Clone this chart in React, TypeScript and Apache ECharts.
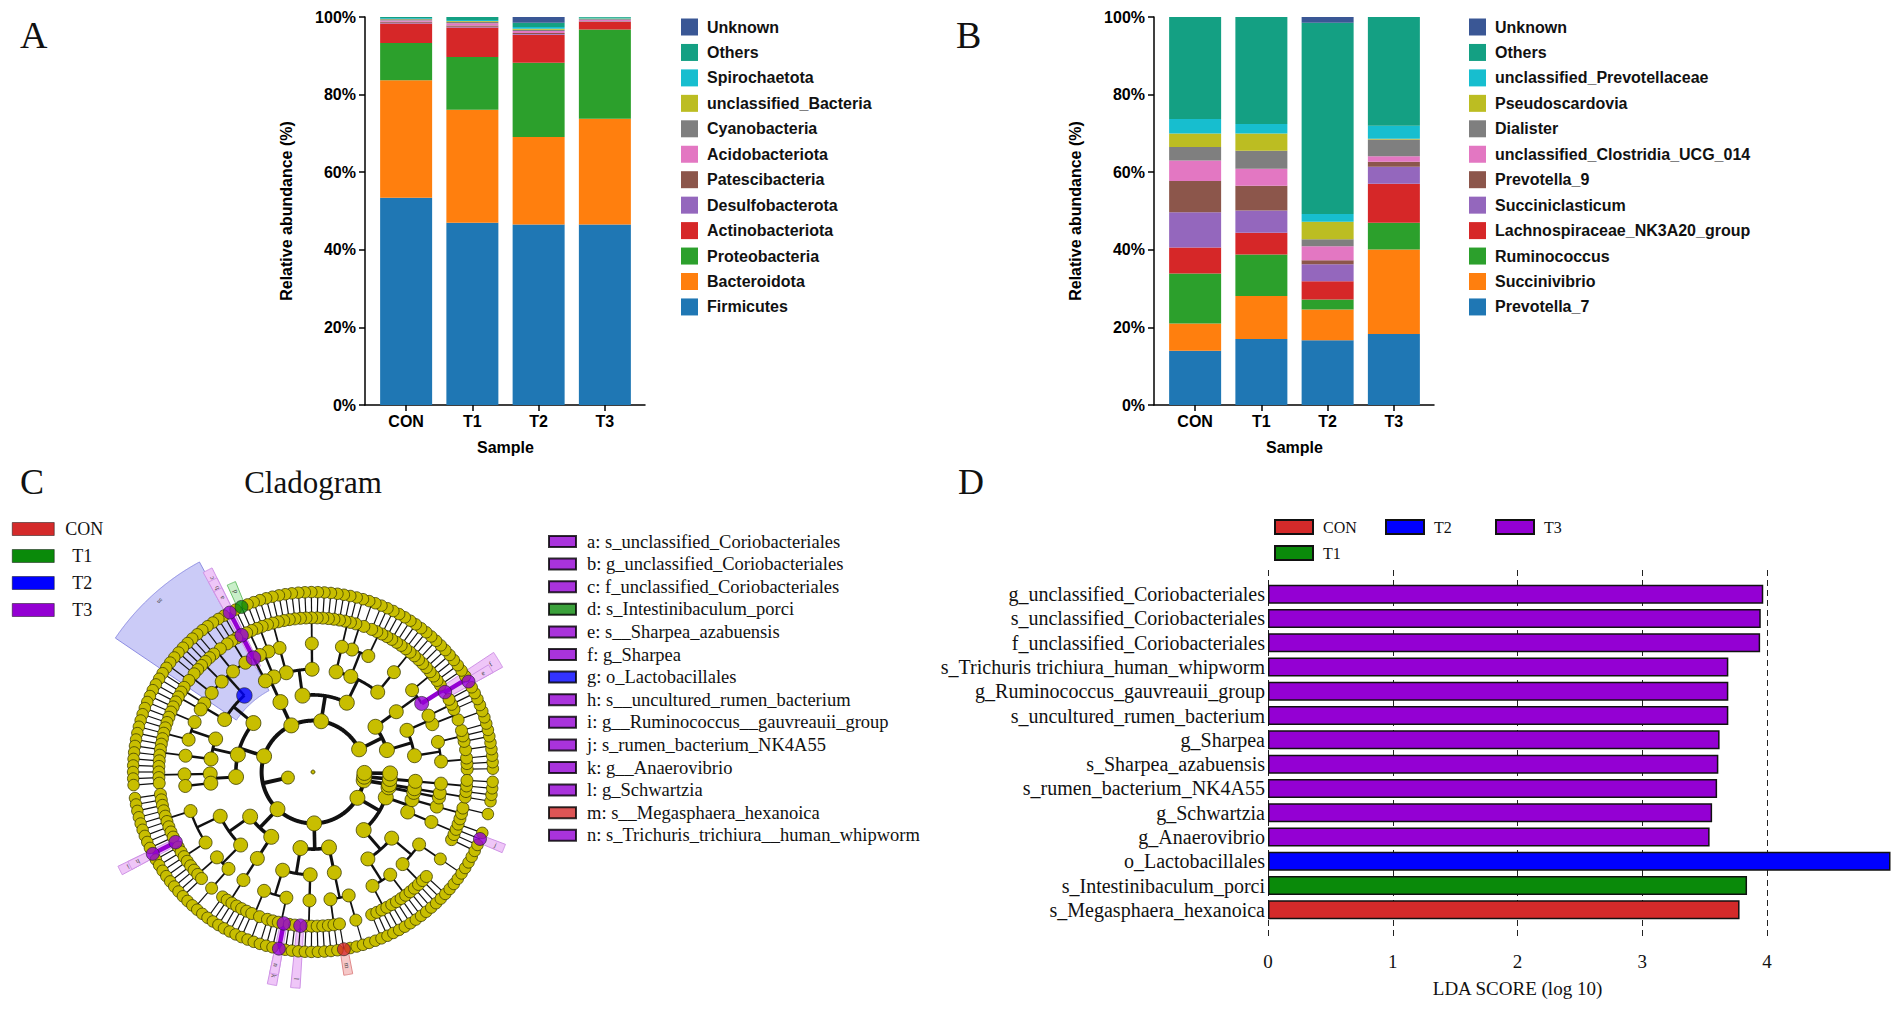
import React, { useEffect, useRef } from 'react';
import * as echarts from 'echarts';

const SANS = '"Liberation Sans", Arial, Helvetica, sans-serif';
const SERIF = '"Liberation Serif", "Times New Roman", Times, serif';

// ---------- Panels A & B ----------
const SAMPLES = ['CON', 'T1', 'T2', 'T3'];
const STACK_COLORS = ['#1f77b4', '#ff7f0e', '#2ca02c', '#d62728', '#9467bd', '#8c564b', '#e377c2', '#7f7f7f', '#bcbd22', '#17becf', '#14a083', '#3a5795'];

const A_NAMES = ['Firmicutes', 'Bacteroidota', 'Proteobacteria', 'Actinobacteriota', 'Desulfobacterota', 'Patescibacteria', 'Acidobacteriota', 'Cyanobacteria', 'unclassified_Bacteria', 'Spirochaetota', 'Others', 'Unknown'];
const A_VALUES = [
  [53.4, 47.0, 46.5, 46.5],
  [30.3, 29.1, 22.6, 27.3],
  [9.6, 13.6, 19.1, 23.0],
  [5.0, 7.6, 7.2, 1.9],
  [0.2, 0.2, 0.2, 0.1],
  [0.3, 0.3, 0.3, 0.1],
  [0.3, 0.6, 0.5, 0.4],
  [0.3, 0.4, 0.3, 0.2],
  [0.1, 0.2, 0.3, 0.1],
  [0.2, 0.2, 0.4, 0.2],
  [0.3, 0.8, 1.1, 0.2],
  [0.0, 0.0, 1.5, 0.0],
];

const B_NAMES = ['Prevotella_7', 'Succinivibrio', 'Ruminococcus', 'Lachnospiraceae_NK3A20_group', 'Succiniclasticum', 'Prevotella_9', 'unclassified_Clostridia_UCG_014', 'Dialister', 'Pseudoscardovia', 'unclassified_Prevotellaceae', 'Others', 'Unknown'];
const B_VALUES = [
  [14.0, 17.0, 16.7, 18.3],
  [7.0, 11.1, 7.9, 21.8],
  [12.9, 10.7, 2.6, 6.9],
  [6.7, 5.6, 4.7, 10.0],
  [9.1, 5.7, 4.4, 4.4],
  [8.0, 6.4, 1.0, 1.3],
  [5.3, 4.4, 3.6, 1.4],
  [3.5, 4.6, 1.8, 4.3],
  [3.5, 4.5, 4.5, 0.2],
  [3.7, 2.4, 2.0, 3.4],
  [26.3, 27.6, 49.3, 28.0],
  [0.0, 0.0, 1.5, 0.0],
];

// ---------- Panel D ----------
const GROUPS = ['CON', 'T1', 'T2', 'T3'];
const GROUP_COLORS = ['#d42a2a', '#0a8a0a', '#0000ff', '#9400d3'];
const LDA_NAMES = ['g_unclassified_Coriobacteriales', 's_unclassified_Coriobacteriales', 'f_unclassified_Coriobacteriales', 's_Trichuris trichiura_human_whipworm', 'g_Ruminococcus_gauvreauii_group', 's_uncultured_rumen_bacterium', 'g_Sharpea', 's_Sharpea_azabuensis', 's_rumen_bacterium_NK4A55', 'g_Schwartzia', 'g_Anaerovibrio', 'o_Lactobacillales', 's_Intestinibaculum_porci', 's_Megasphaera_hexanoica'];
const LDA_VALUES = [3.97, 3.95, 3.945, 3.69, 3.69, 3.69, 3.62, 3.61, 3.6, 3.56, 3.54, 4.99, 3.84, 3.78];
const LDA_GROUP = ['T3', 'T3', 'T3', 'T3', 'T3', 'T3', 'T3', 'T3', 'T3', 'T3', 'T3', 'T2', 'T1', 'CON'];

// ---------- Panel C (cladogram) ----------
// phylum -> class -> order -> family -> genus (number = species count)
const PHYLA: any[] = [
  [
    [[[1, 1, 1, 2], [1, 1, 1]], [[3, 1], [1]]],
    [[[1, 2, 1, 1], [1, 1]]],
  ],
  [
    [[[1, 1, 1, 1, 1, 1, 1, 1, 1]], [[1, 1, 1, 1], [2, 1]], [[1, 1]]],
    [[[1, 1, 1, 1, 1, 1, 1, 1, 1, 1, 1]], [[1, 1, 1]]],
  ],
  [
    [[[1, 1], [1, 1]], [[1]]],
  ],
  [
    [[[1, 1, 1], [2, 1], [1, 1, 1, 1], [1, 2]], [[1, 1], [1]]],
    [[[1, 1, 1, 1, 1], [1, 1, 1]], [[1, 1, 1, 1]]],
    [[[1, 1, 1, 1]], [[]]],
  ],
  [
    [[[1, 1, 1, 1, 1, 1, 1, 1, 1, 1], [1, 1, 1, 1, 1]], [[1, 1, 1], [4]]],
    [[[1, 1, 1, 1]]],
  ],
  [
    [[[1, 1, 1, 2, 1], [1, 1, 1, 1]], [[1, 1, 1, 1, 1, 1]]],
    [[[1, 1, 1], [5]]],
  ],
  [
    [[[1, 1, 1, 1, 1, 1], [1, 1, 1]], [[1, 1, 1, 1], [7]]],
    [[[1, 1, 1, 1]], [[0, 0, 1]]],
    [[[]]],
  ],
  [[[[1]]]],
  [[[[1, 1, 1]]]],
  [[]],
];
const NODE_SIZE = [4, 13, 15, 15, 14, 13, 12, 11.5];
const LINE_W = [0, 4, 3.6, 3.0, 2.4, 1.8, 1.2];

const FEAT_LETTERS = ['a', 'b', 'c', 'd', 'e', 'f', 'g', 'h', 'i', 'j', 'k', 'l', 'm', 'n'];
const FEAT_NAMES = ['s_unclassified_Coriobacteriales', 'g_unclassified_Coriobacteriales', 'f_unclassified_Coriobacteriales', 's_Intestinibaculum_porci', 's__Sharpea_azabuensis', 'g_Sharpea', 'o_Lactobacillales', 's__uncultured_rumen_bacterium', 'g__Ruminococcus__gauvreauii_group', 's_rumen_bacterium_NK4A55', 'g__Anaerovibrio', 'g_Schwartzia', 's__Megasphaera_hexanoica', 's_Trichuris_trichiura__human_whipworm'];
const FEAT_GROUP = ['T3', 'T3', 'T3', 'T1', 'T3', 'T3', 'T2', 'T3', 'T3', 'T3', 'T3', 'T3', 'CON', 'T3'];
const FEAT_ANGLE = [117, 117, 117, 114, 30, 30, 132, 208, 208, 338, 259.5, 264.5, 280, 259.5];
const FEAT_LEVEL = [7, 6, 5, 7, 7, 6, 4, 7, 6, 7, 6, 6, 7, 7];
const EXTRA_ANGLE = [30];
const EXTRA_LEVEL = [5];
const EXTRA_GROUP = ['T3'];

const SECTOR_FILL: Record<string, string> = { CON: '#f6c8c8', T1: '#c9efc9', T2: '#cbcbf7', T3: '#efc6f8' };
const SECTOR_STROKE: Record<string, string> = { CON: '#e08a8a', T1: '#6cc26c', T2: '#8d8de3', T3: '#cf93e6' };

type TNode = { level: number; children: TNode[]; angle: number; leafMin: number; leafMax: number; parent: TNode | null };

function buildTree() {
  let leaf = 0;
  const nodes: TNode[] = [];
  function mk(level: number, spec: any): TNode {
    const n: TNode = { level, children: [], angle: 0, leafMin: 0, leafMax: 0, parent: null };
    if (level === 6) {
      for (let i = 0; i < spec; i++) n.children.push(mk(7, null));
    } else if (level < 6) {
      for (const s of spec) n.children.push(mk(level + 1, s));
    }
    for (const c of n.children) c.parent = n;
    if (!n.children.length) {
      n.leafMin = n.leafMax = leaf;
      n.angle = leaf + 0.5;
      leaf++;
    } else {
      const f = n.children[0];
      const l = n.children[n.children.length - 1];
      n.leafMin = f.leafMin;
      n.leafMax = l.leafMax;
      n.angle = (f.angle + l.angle) / 2;
    }
    nodes.push(n);
    return n;
  }
  const root = mk(0, [PHYLA]);
  return { root, nodes, N: leaf };
}

function buildOption() {
  const { nodes, N } = buildTree();
  const species = nodes.filter((n) => n.level === 7);
  const findNode = (deg: number, level: number) => {
    const t = (deg / 360) * N;
    let best = species[0];
    for (const s of species) if (Math.abs(s.angle - t) < Math.abs(best.angle - t)) best = s;
    let n: TNode = best;
    while (n.level > level && n.parent) n = n.parent;
    return n;
  };

  const featNodes = FEAT_ANGLE.map((a, i) => findNode(a, FEAT_LEVEL[i]));
  const extraNodes = EXTRA_ANGLE.map((a, i) => findNode(a, EXTRA_LEVEL[i]));
  const hl = new Map<TNode, string>();
  featNodes.forEach((n, i) => hl.set(n, FEAT_GROUP[i]));
  extraNodes.forEach((n, i) => hl.set(n, EXTRA_GROUP[i]));

  const arcs: number[][] = [];
  const radials: number[][] = [];
  for (const n of nodes) {
    if (n.level < 1 || !n.children.length) continue;
    const w = LINE_W[n.level];
    const cl = n.level + 1;
    radials.push([n.level, n.angle, cl, w]);
    const a0 = n.children[0].angle;
    const a1 = n.children[n.children.length - 1].angle;
    if (a1 > a0) arcs.push([cl, a0, a1, w]);
  }
  const outerR = (lvl: number) => 8.0 + (7 - lvl) * 0.43;
  const sectorList: { n: TNode; g: string; letter: string }[] = [];
  featNodes.forEach((n, i) => sectorList.push({ n, g: FEAT_GROUP[i], letter: FEAT_LETTERS[i] }));
  sectorList.sort((p, q) => p.n.level - q.n.level);
  const sectors = sectorList.map((s) => [s.n.level - (s.n.level < 6 ? 0.4 : 0), s.n.leafMin - 0.1, outerR(s.n.level), s.n.leafMax + 1.1]);
  const chain: number[][] = [];
  const chainColor: string[] = [];
  hl.forEach((g, n) => {
    if (n.parent && hl.has(n.parent)) {
      chain.push([n.parent.level, n.parent.angle, n.level, n.angle]);
      chainColor.push(GROUP_COLORS[GROUPS.indexOf(g)]);
    }
  });
  const nodeData = nodes.filter((n) => !hl.has(n)).map((n) => [n.level, n.angle, NODE_SIZE[n.level]]);

  const series: any[] = [];
  A_NAMES.forEach((name, i) => {
    series.push({ type: 'bar', name, xAxisIndex: 1, yAxisIndex: 1, stack: 'A', barWidth: 52, data: A_VALUES[i], itemStyle: { color: STACK_COLORS[i] } });
  });
  B_NAMES.forEach((name, i) => {
    series.push({ type: 'bar', name, xAxisIndex: 3, yAxisIndex: 3, stack: 'B', barWidth: 52, data: B_VALUES[i], itemStyle: { color: STACK_COLORS[i] } });
  });
  GROUPS.forEach((g, gi) => {
    series.push({
      type: 'bar', name: g, xAxisIndex: 5, yAxisIndex: 5, stack: 'lda', barWidth: 19, clip: false,
      data: LDA_VALUES.map((v, i) => (LDA_GROUP[i] === g ? v : '-')),
      itemStyle: { color: GROUP_COLORS[gi], borderColor: '#111', borderWidth: 1.5 },
    });
  });

  series.push({
    type: 'custom', coordinateSystem: 'polar', z: 1, silent: true, data: sectors,
    renderItem: (params: any, api: any) => {
      const s = sectorList[params.dataIndex];
      const r0 = api.value(0), a0 = api.value(1), r1 = api.value(2), a1 = api.value(3);
      const pts: number[][] = [];
      const steps = Math.max(2, Math.ceil((a1 - a0) / 0.1));
      for (let k = 0; k <= steps; k++) pts.push(api.coord([r0, a0 + ((a1 - a0) * k) / steps]));
      for (let k = steps; k >= 0; k--) pts.push(api.coord([r1, a0 + ((a1 - a0) * k) / steps]));
      const am = (a0 + a1) / 2;
      const pA = api.coord([r1 - 0.35, am]);
      const pB = api.coord([r1, am]);
      const rot = -Math.atan2(pB[1] - pA[1], pB[0] - pA[0]);
      return {
        type: 'group',
        children: [
          { type: 'polygon', shape: { points: pts }, style: { fill: SECTOR_FILL[s.g], stroke: SECTOR_STROKE[s.g], lineWidth: 1 } },
          { type: 'text', x: pA[0], y: pA[1], rotation: rot, style: { text: s.letter, fontSize: 7, fontFamily: SERIF, fill: '#444', align: 'center', verticalAlign: 'middle' } },
        ],
      };
    },
  });
  series.push({
    type: 'custom', coordinateSystem: 'polar', z: 2, silent: true, data: arcs,
    renderItem: (params: any, api: any) => {
      const r = api.value(0), a0 = api.value(1), a1 = api.value(2), w = api.value(3);
      const pts: number[][] = [];
      const steps = Math.max(2, Math.ceil((a1 - a0) / 0.2));
      for (let k = 0; k <= steps; k++) pts.push(api.coord([r, a0 + ((a1 - a0) * k) / steps]));
      return { type: 'polyline', shape: { points: pts }, style: { stroke: '#111', lineWidth: w, fill: 'none' } };
    },
  });
  series.push({
    type: 'custom', coordinateSystem: 'polar', z: 2, silent: true, data: radials,
    renderItem: (params: any, api: any) => {
      const p1 = api.coord([api.value(0), api.value(1)]);
      const p2 = api.coord([api.value(2), api.value(1)]);
      return { type: 'line', shape: { x1: p1[0], y1: p1[1], x2: p2[0], y2: p2[1] }, style: { stroke: '#111', lineWidth: api.value(3) } };
    },
  });
  series.push({
    type: 'custom', coordinateSystem: 'polar', z: 3, silent: true, data: chain,
    renderItem: (params: any, api: any) => {
      const rp = api.value(0), ap = api.value(1), rc = api.value(2), ac = api.value(3);
      const pts = [api.coord([rp, ap]), api.coord([rc, ap]), api.coord([rc, ac])];
      return { type: 'polyline', shape: { points: pts }, style: { stroke: chainColor[params.dataIndex], lineWidth: 4.5, fill: 'none' } };
    },
  });
  series.push({
    type: 'scatter', coordinateSystem: 'polar', z: 4, silent: true, data: nodeData,
    symbolSize: (v: number[]) => v[2],
    itemStyle: { color: '#c8be00', borderColor: '#3f3f00', borderWidth: 0.8, opacity: 1 },
  });
  extraNodes.forEach((n, i) => {
    series.push({
      type: 'scatter', name: 'extra' + i, coordinateSystem: 'polar', z: 5, silent: true,
      data: [[n.level, n.angle]], symbolSize: NODE_SIZE[n.level] + 1,
      itemStyle: { color: GROUP_COLORS[GROUPS.indexOf(EXTRA_GROUP[i])], borderColor: '#222', borderWidth: 0.8 },
    });
  });
  const featLabels = FEAT_LETTERS.map((l, i) => `${l}: ${FEAT_NAMES[i]}`);
  featNodes.forEach((n, i) => {
    series.push({
      type: 'scatter', name: featLabels[i], coordinateSystem: 'polar', z: 5, silent: true,
      data: [[n.level, n.angle]], symbolSize: NODE_SIZE[n.level] + 1.5,
      itemStyle: { color: GROUP_COLORS[GROUPS.indexOf(FEAT_GROUP[i])], borderColor: '#222', borderWidth: 0.8 },
    });
  });

  const boldSans = { fontFamily: SANS, fontWeight: 'bold' as const, color: '#000' };
  const frameX = (gi: number) => ({ gridIndex: gi, type: 'value', min: 0, max: 1, axisLine: { show: true, onZero: false, lineStyle: { color: '#000', width: 1.5 } }, axisTick: { show: false }, axisLabel: { show: false }, splitLine: { show: false } });
  const catX = (gi: number) => ({
    gridIndex: gi, type: 'category', data: SAMPLES, axisLine: { show: false },
    axisTick: { show: true, alignWithLabel: true, length: 6, lineStyle: { color: '#000', width: 1.5 } },
    axisLabel: { ...boldSans, fontSize: 16, margin: 8 },
    name: 'Sample', nameLocation: 'middle', nameGap: 34, nameTextStyle: { ...boldSans, fontSize: 16 },
  });
  const frameY = (gi: number) => ({
    gridIndex: gi, type: 'value', min: 0, max: 100, interval: 20,
    axisLine: { show: true, onZero: false, lineStyle: { color: '#000', width: 1.5 } },
    axisTick: { show: true, length: 6, lineStyle: { color: '#000', width: 1.5 } },
    axisLabel: { ...boldSans, fontSize: 16, margin: 9, formatter: '{value}%' },
    splitLine: { show: false },
    name: 'Relative abundance (%)', nameLocation: 'middle', nameGap: 71, nameTextStyle: { ...boldSans, fontSize: 16 },
  });
  const hiddenY = (gi: number) => ({ gridIndex: gi, type: 'value', min: 0, max: 100, show: false, splitLine: { show: false } });

  const stackLegend = (names: string[], left: number) => ({
    data: [...names].reverse(), orient: 'vertical', left, top: 18.5, padding: 0, itemWidth: 17, itemHeight: 17, itemGap: 8.45,
    icon: 'rect', selectedMode: false, itemStyle: { borderWidth: 0 },
    textStyle: { fontFamily: SANS, fontWeight: 'bold', fontSize: 16, color: '#111', lineHeight: 17, padding: [0, 0, 0, 4] },
  });
  const groupLegend = (name: string, left: number, top: number, w: number, h: number, fs: number, pad: number, bw: number) => ({
    data: [name], left, top, padding: 0, itemWidth: w, itemHeight: h, icon: 'rect', selectedMode: false,
    itemStyle: { borderColor: '#111', borderWidth: bw },
    textStyle: { fontFamily: SERIF, fontSize: fs, color: '#111', lineHeight: h, padding: [0, 0, 0, pad] },
  });

  const legends: any[] = [
    stackLegend(A_NAMES, 681),
    stackLegend(B_NAMES, 1469),
    groupLegend('CON', 12, 520, 42, 13, 18, 6, 0.5),
    groupLegend('T1', 12, 547, 42, 13, 18, 13, 0.5),
    groupLegend('T2', 12, 574, 42, 13, 18, 13, 0.5),
    groupLegend('T3', 12, 601, 42, 13, 18, 13, 0.5),
    groupLegend('CON', 1274, 519, 38, 14, 16, 5, 2),
    groupLegend('T2', 1385, 519, 38, 14, 16, 5, 2),
    groupLegend('T3', 1495, 519, 38, 14, 16, 5, 2),
    groupLegend('T1', 1274, 545, 38, 14, 16, 5, 2),
    {
      data: featLabels, orient: 'vertical', left: 548, top: 532, padding: 0, itemWidth: 27, itemHeight: 11, itemGap: 3.6,
      icon: 'rect', selectedMode: false, itemStyle: { borderColor: '#000', borderWidth: 2 },
      textStyle: { fontFamily: SERIF, fontSize: 18.5, color: '#111', padding: [0, 0, 0, 6] },
    },
  ];

  const txt = (text: string, x: number, y: number, size: number, align = 'left') => ({
    type: 'text', x, y, silent: true,
    style: { text, fontSize: size, fontFamily: SERIF, fill: '#111', align, verticalAlign: 'middle' },
  });

  return {
    animation: false,
    backgroundColor: '#ffffff',
    grid: [
      { left: 365, top: 17, width: 280, height: 388 },
      { left: 373, top: 17, width: 265, height: 388 },
      { left: 1154, top: 17, width: 280, height: 388 },
      { left: 1162, top: 17, width: 265, height: 388 },
      { left: 1268, top: 570, width: 499, height: 367 },
      { left: 1268, top: 582, width: 499, height: 340 },
    ],
    xAxis: [
      frameX(0),
      catX(1),
      frameX(2),
      catX(3),
      {
        gridIndex: 4, type: 'value', min: 0, max: 4, interval: 1,
        axisLine: { show: false }, axisTick: { show: false },
        splitLine: { show: true, lineStyle: { type: [6, 4], color: '#222', width: 1 } },
        axisLabel: { fontFamily: SERIF, fontSize: 19, color: '#111', margin: 15 },
        name: 'LDA SCORE (log 10)', nameLocation: 'middle', nameGap: 42,
        nameTextStyle: { fontFamily: SERIF, fontSize: 19, color: '#111' },
      },
      { gridIndex: 5, type: 'value', min: 0, max: 4, show: false, splitLine: { show: false } },
    ],
    yAxis: [
      frameY(0),
      hiddenY(1),
      frameY(2),
      hiddenY(3),
      { gridIndex: 4, type: 'value', min: 0, max: 1, show: false, splitLine: { show: false } },
      {
        gridIndex: 5, type: 'category', data: LDA_NAMES, inverse: true,
        axisLine: { show: false }, axisTick: { show: false },
        axisLabel: { fontFamily: SERIF, fontSize: 20, color: '#111', margin: 3, interval: 0 },
      },
    ],
    polar: { center: [313, 772], radius: 257 },
    angleAxis: { type: 'value', min: 0, max: N, startAngle: 0, clockwise: false, show: false, splitLine: { show: false } },
    radiusAxis: { type: 'value', min: 0, max: 10, show: false, splitLine: { show: false } },
    legend: legends,
    graphic: [
      txt('A', 20, 35, 38),
      txt('B', 956, 35, 38),
      txt('C', 20, 482, 36),
      txt('D', 958, 482, 36),
      txt('Cladogram', 313, 482, 31, 'center'),
    ],
    series,
  };
}

export default function App() {
  const ref = useRef<HTMLDivElement>(null);
  useEffect(() => {
    document.body.style.margin = '0';
    document.body.style.overflow = 'hidden';
    if (!ref.current) return;
    const chart = echarts.init(ref.current, null, { renderer: 'svg' });
    chart.setOption(buildOption() as any);
    return () => chart.dispose();
  }, []);
  return <div ref={ref} style={{ width: 1902, height: 1030, background: '#fff' }} />;
}
